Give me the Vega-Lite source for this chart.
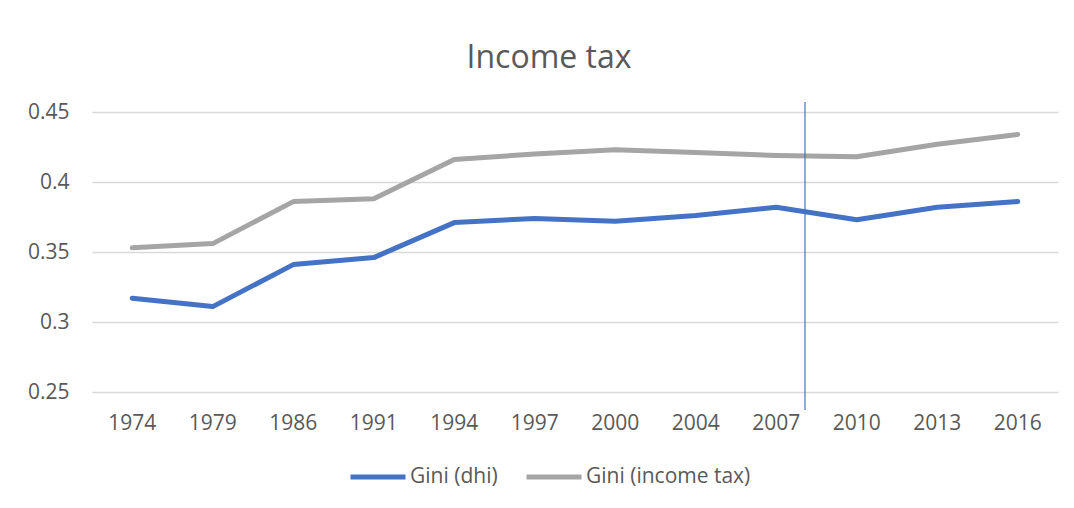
{
  "$schema": "https://vega.github.io/schema/vega-lite/v6.json",
  "autosize": {"type": "none"},
  "width": 966,
  "height": 280,
  "padding": {"left": 92, "top": 112, "right": 16, "bottom": 116},
  "background": "white",
  "title": {
    "text": "Income tax",
    "font": "Open Sans",
    "fontSize": 32,
    "fontWeight": "normal",
    "color": "#595959",
    "anchor": "middle",
    "baseline": "alphabetic",
    "dx": -26,
    "offset": 1
  },
  "config": {
    "view": {"stroke": null},
    "font": "Open Sans",
    "axis": {
      "labelFont": "Open Sans",
      "labelFontSize": 21,
      "labelColor": "#595959",
      "domain": false,
      "ticks": false,
      "tickSize": 0,
      "gridColor": "#d9d9d9",
      "gridWidth": 1.3,
      "title": null
    },
    "legend": {
      "labelFont": "Open Sans",
      "labelFontSize": 21,
      "labelColor": "#595959",
      "labelLimit": 400
    }
  },
  "datasets": {
    "gini": [
      {"year": "1974", "series": "Gini (dhi)", "gini": 0.317},
      {"year": "1979", "series": "Gini (dhi)", "gini": 0.311},
      {"year": "1986", "series": "Gini (dhi)", "gini": 0.341},
      {"year": "1991", "series": "Gini (dhi)", "gini": 0.346},
      {"year": "1994", "series": "Gini (dhi)", "gini": 0.371},
      {"year": "1997", "series": "Gini (dhi)", "gini": 0.374},
      {"year": "2000", "series": "Gini (dhi)", "gini": 0.372},
      {"year": "2004", "series": "Gini (dhi)", "gini": 0.376},
      {"year": "2007", "series": "Gini (dhi)", "gini": 0.382},
      {"year": "2010", "series": "Gini (dhi)", "gini": 0.373},
      {"year": "2013", "series": "Gini (dhi)", "gini": 0.382},
      {"year": "2016", "series": "Gini (dhi)", "gini": 0.386},
      {"year": "1974", "series": "Gini (income tax)", "gini": 0.353},
      {"year": "1979", "series": "Gini (income tax)", "gini": 0.356},
      {"year": "1986", "series": "Gini (income tax)", "gini": 0.386},
      {"year": "1991", "series": "Gini (income tax)", "gini": 0.388},
      {"year": "1994", "series": "Gini (income tax)", "gini": 0.416},
      {"year": "1997", "series": "Gini (income tax)", "gini": 0.420},
      {"year": "2000", "series": "Gini (income tax)", "gini": 0.423},
      {"year": "2004", "series": "Gini (income tax)", "gini": 0.421},
      {"year": "2007", "series": "Gini (income tax)", "gini": 0.419},
      {"year": "2010", "series": "Gini (income tax)", "gini": 0.418},
      {"year": "2013", "series": "Gini (income tax)", "gini": 0.427},
      {"year": "2016", "series": "Gini (income tax)", "gini": 0.434}
    ],
    "marker": [
      {"year": "2007", "top": 0.4571, "bottom": 0.2371}
    ]
  },
  "layer": [
    {
      "data": {"name": "gini"},
      "mark": {"type": "line", "strokeWidth": 5, "strokeCap": "round", "strokeJoin": "round"},
      "encoding": {
        "x": {
          "field": "year",
          "type": "ordinal",
          "bandPosition": 0.5,
          "scale": {"type": "band", "paddingInner": 0, "paddingOuter": 0},
          "axis": {"labelAngle": 0, "labelPadding": 20, "labelBaseline": "top", "grid": false}
        },
        "y": {
          "field": "gini",
          "type": "quantitative",
          "scale": {"domain": [0.25, 0.45], "zero": false, "nice": false},
          "axis": {"values": [0.25, 0.3, 0.35, 0.4, 0.45], "format": ".2~f", "labelPadding": 23, "grid": true}
        },
        "color": {
          "field": "series",
          "type": "nominal",
          "scale": {"domain": ["Gini (dhi)", "Gini (income tax)"], "range": ["#4472C4", "#A5A5A5"]},
          "legend": {
            "title": null,
            "orient": "none",
            "direction": "horizontal",
            "legendX": 256,
            "legendY": 335,
            "symbolType": "stroke",
            "symbolSize": 3025,
            "symbolStrokeWidth": 5,
            "labelOffset": 2,
            "columnPadding": 18
          }
        }
      }
    },
    {
      "data": {"name": "marker"},
      "mark": {"type": "rule", "color": "#4472C4", "strokeWidth": 1.2},
      "encoding": {
        "x": {"field": "year", "type": "ordinal", "bandPosition": 0.857},
        "y": {"field": "top", "type": "quantitative"},
        "y2": {"field": "bottom"}
      }
    }
  ]
}
